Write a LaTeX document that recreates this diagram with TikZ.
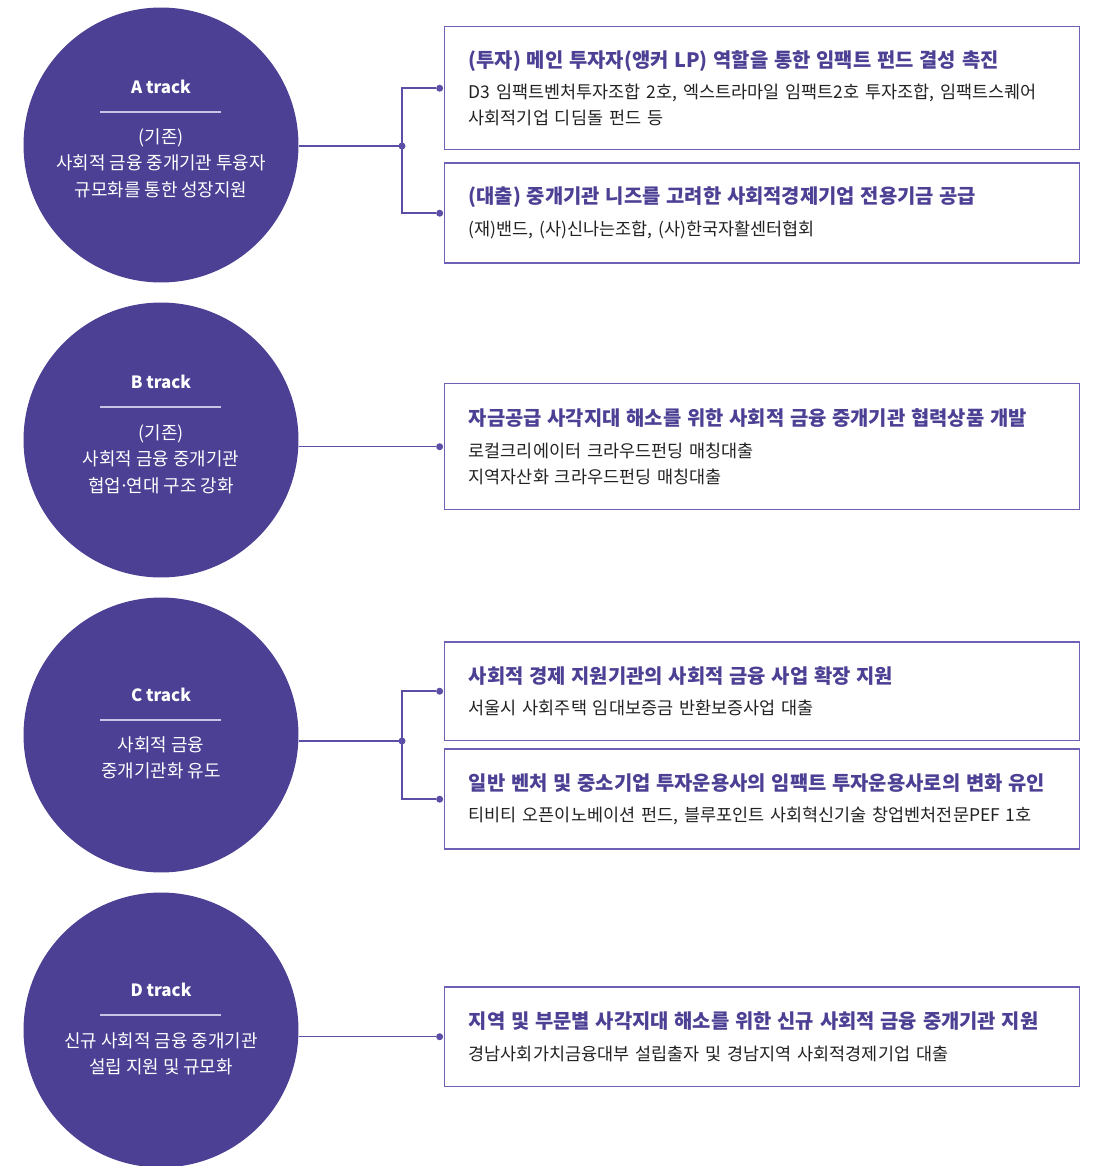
\documentclass[tikz,border=0pt]{standalone}
\usepackage{fontspec}
\setmainfont{Noto Sans CJK KR}
\usepackage{xcolor}
\usetikzlibrary{positioning}
\definecolor{trackpurple}{HTML}{4B4094}
\definecolor{linepurple}{HTML}{5A4EA6}
\definecolor{boxpurple}{HTML}{6C61B4}
\definecolor{rulelav}{HTML}{C9C4E6}
\definecolor{bodygray}{HTML}{222222}
\newcommand{\fundhead}[1]{{\color{trackpurple}\bfseries\fontsize{11.3}{14.7}\selectfont #1}}

\begin{document}
\begin{tikzpicture}[x=0.02cm, y=-0.02cm, node distance=0.24cm,
  track/.style={circle, fill=trackpurple, minimum size=5.5cm, inner sep=0pt},
  tracktitle/.style={text=white, font=\bfseries\fontsize{9.6}{12}\selectfont},
  tracktext/.style={text=white, align=center, font=\fontsize{10.2}{15}\selectfont},
  trackrule/.style={rulelav, line width=0.8pt},
  fundbox/.style={draw=boxpurple, line width=0.85pt, anchor=north west, text width=11.74cm,
    inner xsep=0.48cm, inner ysep=0pt, minimum height=2cm, align=left, text=bodygray,
    font=\fontsize{9.95}{14.7}\selectfont},
  link/.style={linepurple, line width=0.85pt},
  joint/.style={circle, fill=linepurple, inner sep=0pt, minimum size=0.14cm}]
\useasboundingbox (0,0) rectangle (1095,1166);
%%%%%%%%%%%%%%%%%%%%%%%%%%%%%%%%%%%%% A track
\node[track] (A) at (161,145) {};
\node[tracktitle] (Atitle) at (161,87) {A track};
\coordinate (Arulel) at (100,112);
\coordinate (Aruler) at (221,112);
\node[tracktext] (Atext) at (161,163) {(기존)\\사회적 금융 중개기관 투융자\\규모화를 통한 성장지원};
\node[fundbox, minimum height=2.46cm] (A1) at (444,26) {\fundhead{(투자) 메인 투자자(앵커 LP) 역할을 통한 임팩트 펀드 결성 촉진}\\[3.4pt]
D3 임팩트벤처투자조합 2호, 엑스트라마일 임팩트2호 투자조합, 임팩트스퀘어\\
사회적기업 디딤돌 펀드 등};
\node[fundbox, below=of A1] (A2) {\fundhead{(대출) 중개기관 니즈를 고려한 사회적경제기업 전용기금 공급}\\[3.4pt]
(재)밴드, (사)신나는조합, (사)한국자활센터협회};
\coordinate (Ahub) at (402,146);
\node[joint] (Ahubdot) at (Ahub) {};
\node[joint, left=0.01cm of A1.west] (A1dot) {};
\node[joint, left=0.01cm of A2.west] (A2dot) {};
%%%%%%%%%%%%%%%%%%%%%%%%%%%%%%%%%%%%% B track
\node[track] (B) at (161,440) {};
\node[tracktitle] (Btitle) at (161,382) {B track};
\coordinate (Brulel) at (100,407);
\coordinate (Bruler) at (221,407);
\node[tracktext] (Btext) at (161,459) {(기존)\\사회적 금융 중개기관\\협업\kern-0.12em·\kern-0.12em연대 구조 강화};
\node[fundbox, minimum height=2.52cm] (B1) at (444,383) {\fundhead{자금공급 사각지대 해소를 위한 사회적 금융 중개기관 협력상품 개발}\\[3.4pt]
로컬크리에이터 크라우드펀딩 매칭대출\\
지역자산화 크라우드펀딩 매칭대출};
\node[joint, left=0.01cm of B1.west] (B1dot) {};
%%%%%%%%%%%%%%%%%%%%%%%%%%%%%%%%%%%%% C track
\node[track] (C) at (161,735) {};
\node[tracktitle] (Ctitle) at (161,695) {C track};
\coordinate (Crulel) at (100,720);
\coordinate (Cruler) at (221,720);
\node[tracktext] (Ctext) at (161,758) {사회적 금융\\중개기관화 유도};
\node[fundbox, minimum height=1.98cm] (C1) at (444,641) {\fundhead{사회적 경제 지원기관의 사회적 금융 사업 확장 지원}\\[3.4pt]
서울시 사회주택 임대보증금 반환보증사업 대출};
\node[fundbox, below=0.14cm of C1] (C2) {\fundhead{일반 벤처 및 중소기업 투자운용사의 임팩트 투자운용사로의 변화 유인}\\[3.4pt]
티비티 오픈이노베이션 펀드, 블루포인트 사회혁신기술 창업벤처전문PEF 1호};
\coordinate (Chub) at (402,741);
\node[joint] (Chubdot) at (Chub) {};
\node[joint, left=0.01cm of C1.west] (C1dot) {};
\node[joint, left=0.01cm of C2.west] (C2dot) {};
%%%%%%%%%%%%%%%%%%%%%%%%%%%%%%%%%%%%% D track
\node[track] (D) at (161,1030) {};
\node[tracktitle] (Dtitle) at (161,990) {D track};
\coordinate (Drulel) at (100,1015);
\coordinate (Druler) at (221,1015);
\node[tracktext] (Dtext) at (161,1054) {신규 사회적 금융 중개기관\\설립 지원 및 규모화};
\node[fundbox] (D1) at (444,986) {\fundhead{지역 및 부문별 사각지대 해소를 위한 신규 사회적 금융 중개기관 지원}\\[3.4pt]
경남사회가치금융대부 설립출자 및 경남지역 사회적경제기업 대출};
\node[joint, left=0.01cm of D1.west] (D1dot) {};

\draw[trackrule] (Arulel) -- (Aruler);
\draw[trackrule] (Brulel) -- (Bruler);
\draw[trackrule] (Crulel) -- (Cruler);
\draw[trackrule] (Drulel) -- (Druler);
%%%%%%%%%%%%%%%%%%%%%%%%%%%%%
\draw[link] (A.east |- Ahub) -- (Ahub);
\draw[link] (Ahub) |- (A1dot);
\draw[link] (Ahub) |- (A2dot);
\draw[link] (B.east |- B1dot) -- (B1dot);
\draw[link] (C.east |- Chub) -- (Chub);
\draw[link] (Chub) |- (C1dot);
\draw[link] (Chub) |- (C2dot);
\draw[link] (D.east |- D1dot) -- (D1dot);
\end{tikzpicture}
\end{document}
